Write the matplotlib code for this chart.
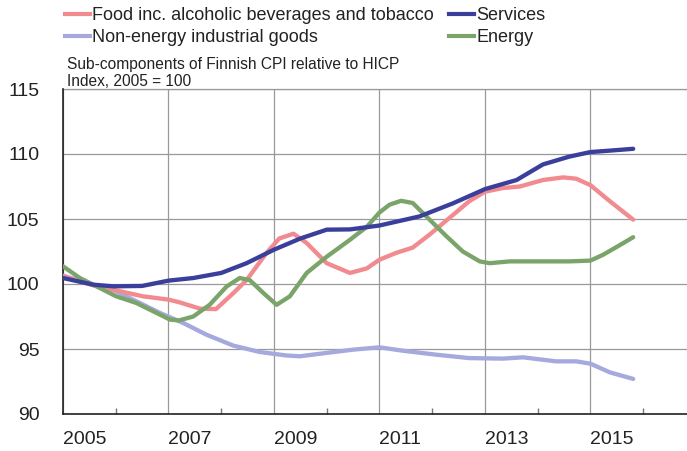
import matplotlib
matplotlib.use("Agg")
import matplotlib.pyplot as plt
from matplotlib.lines import Line2D

plt.rcParams['font.family'] = ['Liberation Sans', 'DejaVu Sans']

# ---- data ----
services_x = [2005.0, 2005.57, 2005.95, 2006.5, 2007.0, 2007.47, 2008.0, 2008.48, 2009.0, 2009.5,
              2010.0, 2010.44, 2011.0, 2011.76, 2012.39, 2013.0, 2013.6, 2014.1, 2014.6, 2015.0,
              2015.37, 2015.81]
services_y = [100.46, 99.95, 99.82, 99.85, 100.26, 100.46, 100.85, 101.6, 102.64, 103.5,
              104.18, 104.2, 104.5, 105.2, 106.2, 107.3, 108.0, 109.2, 109.8, 110.15,
              110.26, 110.4]

food_x = [2005.0, 2005.57, 2005.95, 2006.52, 2007.0, 2007.2, 2007.6, 2007.9, 2008.23, 2008.48,
          2008.86, 2009.1, 2009.37, 2009.62, 2010.0, 2010.44, 2010.76, 2011.0, 2011.32, 2011.63,
          2011.95, 2012.39, 2012.7, 2013.0, 2013.34, 2013.66, 2014.1, 2014.48, 2014.73, 2015.0,
          2015.37, 2015.81]
food_y = [100.6, 99.9, 99.56, 99.05, 98.8, 98.6, 98.1, 98.07, 99.3, 100.3,
          102.4, 103.5, 103.87, 103.15, 101.6, 100.85, 101.2, 101.87, 102.4, 102.8,
          103.8, 105.3, 106.36, 107.1, 107.38, 107.5, 108.0, 108.2, 108.1, 107.6,
          106.36, 104.95]

nonenergy_x = [2005.0, 2005.57, 2005.95, 2006.39, 2006.84, 2007.28, 2007.72, 2008.23, 2008.73, 2009.24,
               2009.49, 2010.0, 2010.5, 2011.0, 2011.44, 2012.08, 2012.7, 2013.34, 2013.72, 2014.35,
               2014.73, 2015.0, 2015.37, 2015.81]
nonenergy_y = [100.64, 99.95, 99.56, 98.67, 97.77, 97.0, 96.1, 95.26, 94.77, 94.5,
               94.44, 94.7, 94.95, 95.13, 94.87, 94.56, 94.3, 94.26, 94.36, 94.05,
               94.05, 93.87, 93.2, 92.7]

energy_x = [2005.0, 2005.32, 2005.57, 2006.01, 2006.39, 2006.71, 2007.03, 2007.2, 2007.47, 2007.78,
            2008.1, 2008.35, 2008.54, 2008.8, 2009.05, 2009.3, 2009.62, 2010.0, 2010.44, 2010.76,
            2011.0, 2011.19, 2011.41, 2011.63, 2011.95, 2012.27, 2012.58, 2012.9, 2013.09, 2013.47,
            2014.0, 2014.6, 2015.0, 2015.24, 2015.56, 2015.81]
energy_y = [101.36, 100.46, 99.95, 99.05, 98.54, 97.9, 97.26, 97.2, 97.5, 98.4,
            99.8, 100.46, 100.3, 99.3, 98.4, 99.05, 100.85, 102.1, 103.4, 104.4,
            105.5, 106.1, 106.4, 106.23, 104.95, 103.67, 102.5, 101.74, 101.6, 101.74,
            101.74, 101.74, 101.8, 102.25, 103.0, 103.6]

year_labels = ['2005', '2007', '2009', '2011', '2013', '2015']
year_ticks = [2005, 2007, 2009, 2011, 2013, 2015]
minor_years = [2006, 2008, 2010, 2012, 2014, 2016]
y_ticks = [90, 95, 100, 105, 110, 115]

labels = ['Food inc. alcoholic beverages and tobacco', 'Non-energy industrial goods',
          'Services', 'Energy']
colors = {'food': '#f28b8f', 'nonenergy': '#a6a9de', 'services': '#3b3f9c', 'energy': '#7ba46b'}

# ---- figure ----
fig = plt.figure(figsize=(6.87, 4.51), dpi=100)
ax = fig.add_axes([63/687, 37/451, 1 - 63/687, (414-89)/451])

lw = 3.1
ax.plot(nonenergy_x, nonenergy_y, color=colors['nonenergy'], lw=lw, solid_capstyle='round', zorder=3)
ax.plot(food_x, food_y, color=colors['food'], lw=lw, solid_capstyle='round', zorder=3)
ax.plot(energy_x, energy_y, color=colors['energy'], lw=lw, solid_capstyle='round', zorder=4)
ax.plot(services_x, services_y, color=colors['services'], lw=lw, solid_capstyle='round', zorder=5)

ax.set_xlim(2005, 2016.83)
ax.set_ylim(90, 115)

ax.set_yticks(y_ticks)
ax.set_yticklabels([str(v) for v in y_ticks])
ax.set_xticks(year_ticks)
ax.set_xticklabels(year_labels)
for lab in ax.get_xticklabels():
    lab.set_horizontalalignment('left')
ax.set_xticks(minor_years, minor=True)

ax.tick_params(axis='x', which='major', length=0, pad=12, labelsize=14, colors='#222222')
ax.tick_params(axis='x', which='minor', length=4, direction='in', color='#777777', width=1)
ax.tick_params(axis='y', which='major', length=0, pad=17, labelsize=14, colors='#222222')

ax.grid(True, which='major', color='#999999', lw=0.9)
for s in ['top', 'right']:
    ax.spines[s].set_visible(False)
ax.axhline(115, color='#999999', lw=0.9, clip_on=False)
ax.spines['left'].set_color('#222222')
ax.spines['bottom'].set_color('#222222')
ax.spines['left'].set_linewidth(1.2)
ax.spines['bottom'].set_linewidth(1.2)

# legend
handles = [Line2D([], [], color=colors['food'], lw=3),
           Line2D([], [], color=colors['nonenergy'], lw=3),
           Line2D([], [], color=colors['services'], lw=3),
           Line2D([], [], color=colors['energy'], lw=3)]
fig.legend(handles, labels, ncol=2, loc='upper left', bbox_to_anchor=(65/687, 1 - 7/451),
           frameon=False, fontsize=13, handlelength=1.4, handletextpad=0.12,
           columnspacing=0.8, labelspacing=0.3, borderaxespad=0, borderpad=0,
           labelcolor='#222222')

fig.text(67/687, 1 - 64/451, 'Sub-components of Finnish CPI relative to HICP', fontsize=11.2,
         va='center', ha='left', color='#222222')
fig.text(67/687, 1 - 81/451, 'Index, 2005 = 100', fontsize=11.2, va='center', ha='left', color='#222222')

fig.savefig('out.png', dpi=100)
